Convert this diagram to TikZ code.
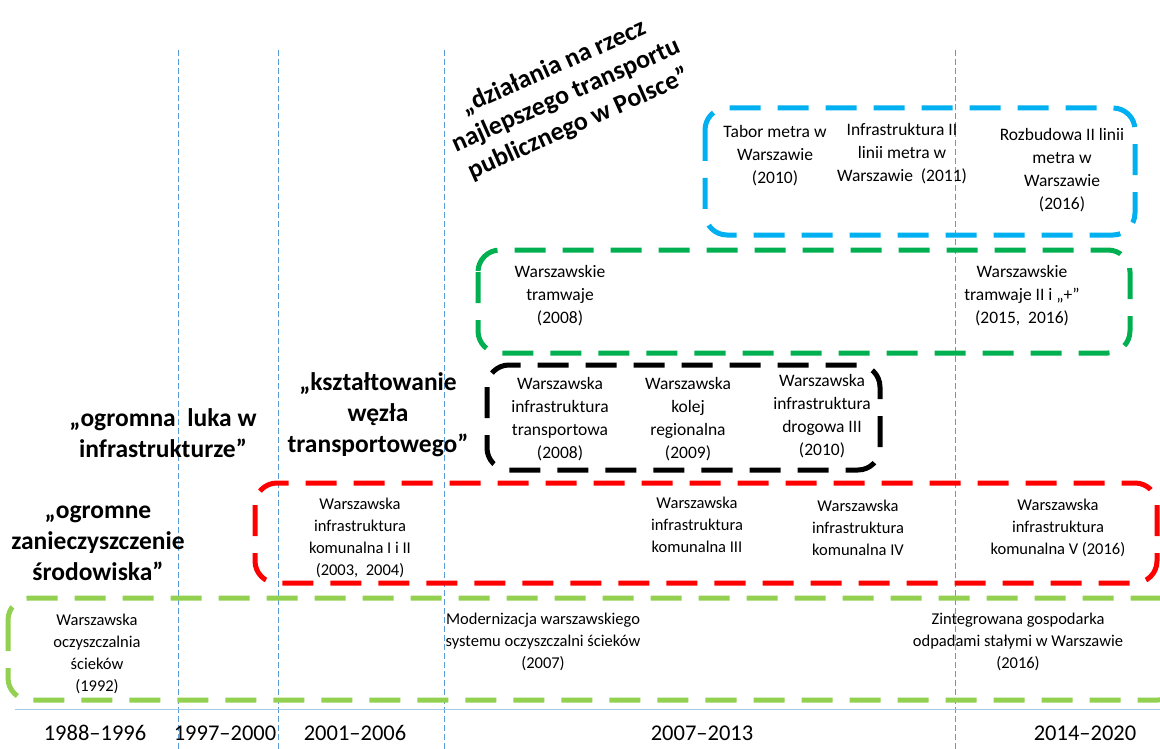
\documentclass[tikz,border=0pt]{standalone}
\usepackage{fontspec}
\setmainfont{Carlito}
\definecolor{metroblue}{RGB}{0,176,240}
\definecolor{tramgreen}{RGB}{0,176,80}
\definecolor{wastegreen}{RGB}{146,208,80}
\definecolor{gridblue}{RGB}{91,155,213}
\begin{document}
\begin{tikzpicture}[x=1pt,y=-1pt,
    box/.style={line width=5pt,rounded corners=22pt,dash pattern=on 31pt off 17pt},
    grid/.style={gridblue,line width=0.9pt,dash pattern=on 6pt off 3pt},
    lbl/.style={align=center,font=\fontsize{17.5}{23}\selectfont,inner sep=0pt},
    lowlbl/.style={align=center,font=\fontsize{16.5}{22}\selectfont,inner sep=0pt},
    motto/.style={align=center,font=\bfseries\fontsize{25.5}{31}\selectfont,inner sep=0pt},
    period/.style={font=\fontsize{22.5}{26}\selectfont,inner sep=0pt}]
    
    \fill[white] (0,0) rectangle (1160,749);
    \clip (0,0) rectangle (1160,749);
    
    \foreach \gx in {178,278,444,955}
        \draw[grid] (\gx,50) -- (\gx,749);
    \draw[gridblue!55,line width=1pt] (15,709) -- (1160,709);
    
    \draw[box,wastegreen] (8,598) rectangle (1180,700);
    \draw[box,red] (255,483) rectangle (1157,583);
    \draw[box,black] (487,365) rectangle (880,470);
    \draw[box,tramgreen] (478,250) rectangle (1130,353);
    \draw[box,metroblue] (705,108) rectangle (1135,235);
    
    \node[motto,rotate=24,font=\bfseries\fontsize{26}{31}\selectfont] (poland) at (566,96) {„działania na rzecz\\najlepszego transportu\\publicznego w Polsce”};
    \node[motto] (gap) at (163,433) {„ogromna\ \ luka w\\infrastrukturze”};
    \node[motto] (pollution) at (98,543) {„ogromne\\zanieczyszczenie\\środowiska”};
    \node[motto] (hub) at (378,415) {„kształtowanie\\węzła\\transportowego”};
    
    \node[lbl] (m1) at (775,156) {Tabor metra w\\Warszawie\\(2010)};
    \node[lbl] (m2) at (902,154) {Infrastruktura II\\linii metra w\\Warszawie\ \ (2011)};
    \node[lbl] (m3) at (1062,170) {Rozbudowa II linii\\metra w\\Warszawie\\(2016)};
    
    \node[lbl] (t1) at (560,296) {Warszawskie\\tramwaje\\(2008)};
    \node[lbl] (t2) at (1022,296) {Warszawskie\\tramwaje II i „+”\\(2015,\ \ 2016)};
    
    \node[lbl] (k1) at (560,419) {Warszawska\\infrastruktura\\transportowa\\(2008)};
    \node[lbl] (k2) at (688,419) {Warszawska\\kolej\\regionalna\\(2009)};
    \node[lbl] (k3) at (822,416) {Warszawska\\infrastruktura\\drogowa III\\(2010)};
    
    \node[lowlbl] (c1) at (360,538) {Warszawska\\infrastruktura\\komunalna I i II\\(2003,\ \ 2004)};
    \node[lowlbl] (c2) at (697,525) {Warszawska\\infrastruktura\\komunalna III};
    \node[lowlbl] (c3) at (858,528) {Warszawska\\infrastruktura\\komunalna IV};
    \node[lowlbl] (c4) at (1058,528) {Warszawska\\infrastruktura\\komunalna V (2016)};
    
    \node[lowlbl] (w1) at (97,654) {Warszawska\\oczyszczalnia\\ścieków\\(1992)};
    \node[lowlbl] (w2) at (543,642) {Modernizacja warszawskiego\\systemu oczyszczalni ścieków\\(2007)};
    \node[lowlbl] (w3) at (1018,642) {Zintegrowana gospodarka\\odpadami stałymi w Warszawie\\(2016)};
    
    \node[period] (p1) at (95,733) {1988–1996};
    \node[period] (p2) at (225,733) {1997–2000};
    \node[period] (p3) at (355,733) {2001–2006};
    \node[period] (p4) at (702,733) {2007–2013};
    \node[period] (p5) at (1085,733) {2014–2020};
    
\end{tikzpicture}
\end{document}
